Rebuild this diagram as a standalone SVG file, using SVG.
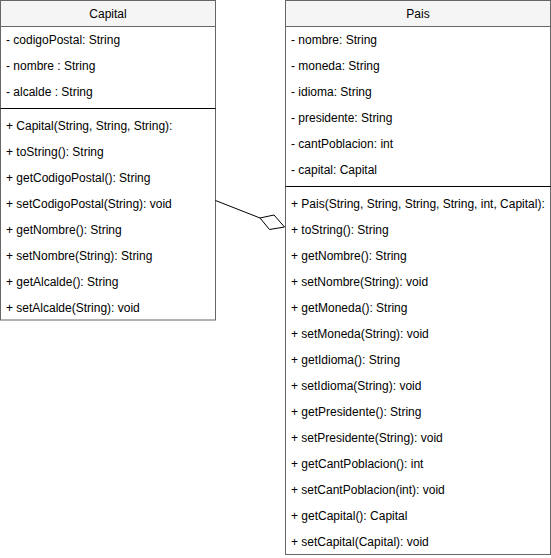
<svg xmlns="http://www.w3.org/2000/svg" width="551" height="558" viewBox="0 0 551 558">
<style>
text{font-family:"Liberation Sans",Arial,sans-serif;font-size:12px;fill:#000}
.box{fill:#fff;stroke:#666;stroke-width:1}
.hdr{fill:#f5f5f5;stroke:#666;stroke-width:1}
.sep{stroke:#000;stroke-width:1}
.title{text-anchor:middle}
.conn{stroke:#000;stroke-width:1;fill:none}
</style>
<rect width="551" height="558" fill="#fff"/>
<g id="Capital">
<rect class="box" x="0.5" y="0.5" width="215" height="319.5"/>
<rect class="hdr" x="0.5" y="0.5" width="215" height="26"/>
<text class="title" x="108" y="18">Capital</text>
<text x="6" y="44">- codigoPostal: String</text>
<text x="6" y="70">- nombre : String</text>
<text x="6" y="96">- alcalde : String</text>
<line class="sep" x1="0.5" y1="108.5" x2="215.5" y2="108.5"/>
<text x="6" y="130">+ Capital(String, String, String):</text>
<text x="6" y="156">+ toString(): String</text>
<text x="6" y="182">+ getCodigoPostal(): String</text>
<text x="6" y="208">+ setCodigoPostal(String): void</text>
<text x="6" y="234">+ getNombre(): String</text>
<text x="6" y="260">+ setNombre(String): String</text>
<text x="6" y="286">+ getAlcalde(): String</text>
<text x="6" y="312">+ setAlcalde(String): void</text>
</g>
<g id="Pais">
<rect class="box" x="285.5" y="0.5" width="265" height="554"/>
<rect class="hdr" x="285.5" y="0.5" width="265" height="26"/>
<text class="title" x="418" y="18">Pais</text>
<text x="291" y="44">- nombre: String</text>
<text x="291" y="70">- moneda: String</text>
<text x="291" y="96">- idioma: String</text>
<text x="291" y="122">- presidente: String</text>
<text x="291" y="148">- cantPoblacion: int</text>
<text x="291" y="174">- capital: Capital</text>
<line class="sep" x1="285.5" y1="186.5" x2="550.5" y2="186.5"/>
<text x="291" y="208">+ Pais(String, String, String, String, int, Capital):</text>
<text x="291" y="234">+ toString(): String</text>
<text x="291" y="260">+ getNombre(): String</text>
<text x="291" y="286">+ setNombre(String): void</text>
<text x="291" y="312">+ getMoneda(): String</text>
<text x="291" y="338">+ setMoneda(String): void</text>
<text x="291" y="364">+ getIdioma(): String</text>
<text x="291" y="390">+ setIdioma(String): void</text>
<text x="291" y="416">+ getPresidente(): String</text>
<text x="291" y="442">+ setPresidente(String): void</text>
<text x="291" y="468">+ getCantPoblacion(): int</text>
<text x="291" y="494">+ setCantPoblacion(int): void</text>
<text x="291" y="520">+ getCapital(): Capital</text>
<text x="291" y="546">+ setCapital(Capital): void</text>
</g>
<g id="connectors">
<line class="conn" x1="215.5" y1="200.5" x2="260" y2="218"/>
<polygon class="conn" fill="#fff" points="260,218 274,215 284.5,227 269.5,229.5" style="fill:#fff"/>
</g>
</svg>
